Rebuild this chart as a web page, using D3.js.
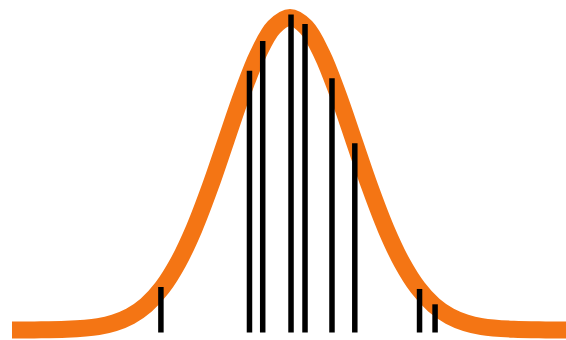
<!DOCTYPE html>
<html>
<head>
<meta charset="utf-8">
<script src="https://cdn.jsdelivr.net/npm/d3@7"></script>
<style>
  html, body { margin: 0; padding: 0; background: #ffffff; }
  svg { display: block; }
</style>
</head>
<body>
<svg id="chart" width="566" height="340"></svg>
<script>
// Density curve, x in standard units
const curveX = [-4.35, -4, -3.5, -3, -2.75, -2.5, -2.25, -2, -1.75, -1.5, -1.25, -1, -0.75, -0.5, -0.25, 0,
                0.25, 0.5, 0.75, 1, 1.25, 1.5, 1.75, 2, 2.25, 2.5, 2.75, 3, 3.5, 4, 4.35];
const curveY = [0.0000, 0.0001, 0.0009, 0.0044, 0.0091, 0.0175, 0.0317, 0.0540, 0.0863, 0.1295, 0.1826, 0.2420, 0.3011, 0.3521, 0.3867, 0.3989,
                0.3867, 0.3521, 0.3011, 0.2420, 0.1826, 0.1295, 0.0863, 0.0540, 0.0317, 0.0175, 0.0091, 0.0044, 0.0009, 0.0001, 0.0000];

// Sample stems
const stemX = [-2.02, -0.634, -0.427, 0.016, 0.235, 0.657, 1.014, 2.027, 2.27];
const stemY = [0.0549, 0.331, 0.369, 0.4027, 0.3908, 0.3215, 0.2384, 0.0524, 0.0328];
const stemBase = -0.0032;

const svg = d3.select("#chart");
const x = d3.scaleLinear().domain([-4.35, 4.35]).range([12, 568]);
const y = d3.scaleLinear().domain([0, 0.39894]).range([330, 17.5]);

const curveData = curveX.map((d, i) => ({x: d, y: curveY[i]}));
const line = d3.line().x(d => x(d.x)).y(d => y(d.y)).curve(d3.curveCatmullRom.alpha(0.5));

svg.append("path")
  .datum(curveData)
  .attr("d", line)
  .attr("fill", "none")
  .attr("stroke", "#f47514")
  .attr("stroke-width", 17)
  .attr("stroke-linecap", "butt");

const stems = stemX.map((d, i) => ({x: d, y: stemY[i]}));
svg.append("g").selectAll("line")
  .data(stems)
  .join("line")
  .attr("x1", d => x(d.x))
  .attr("x2", d => x(d.x))
  .attr("y1", y(stemBase))
  .attr("y2", d => y(d.y))
  .attr("stroke", "#000000")
  .attr("stroke-width", 5.5)
  .attr("stroke-linecap", "butt");
</script>
</body>
</html>
